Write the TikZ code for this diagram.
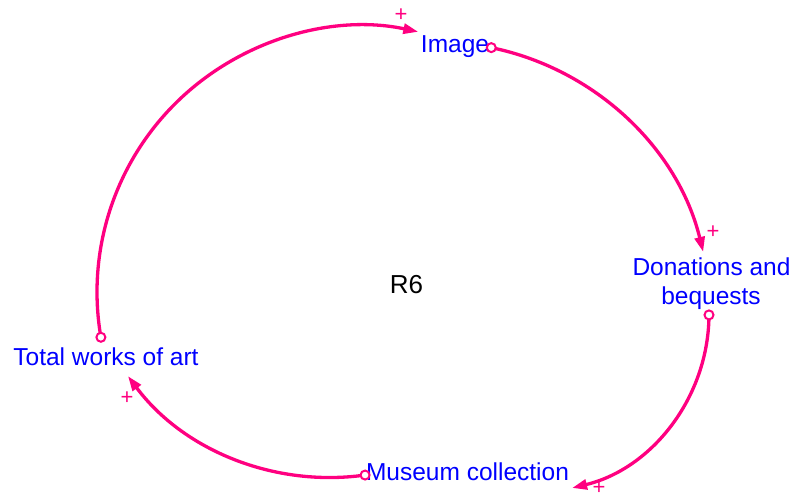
\documentclass[tikz,border=0pt]{standalone}
\usepackage{fontspec}
\setmainfont{Liberation Sans}
\usetikzlibrary{arrows.meta}
\definecolor{linkpink}{RGB}{255,0,128}
\definecolor{varblue}{RGB}{0,0,255}
\begin{document}
\begin{tikzpicture}[x=1pt,y=1pt,
  var/.style={text=varblue,font=\fontsize{24.5}{29}\selectfont,inner sep=0pt,anchor=base,align=center},
  link/.style={draw=linkpink,line width=3.3pt,-{Triangle[length=15pt,width=10pt]}},
  tailc/.style={draw=linkpink,line width=2pt,fill=white},
  pol/.style={text=linkpink,font=\fontsize{22}{22}\selectfont,inner sep=0pt,text height=12pt,text depth=0pt}]
\useasboundingbox (0,0) rectangle (794,499);
% variables
\node[var] (image) at (455,446) {Image};
\node[var] (don) at (711.5,224) {Donations and};
\node[var] (beq) at (711,195) {bequests};
\node[var] (total) at (106,134) {Total works of art};
\node[var] (museum) at (467.5,18.5) {Museum collection};
\node[text=black,font=\fontsize{26}{26}\selectfont,inner sep=0pt,anchor=base] (r6) at (406.5,206) {R6};
% arc centres
\coordinate (c1) at (363,207);
\coordinate (c2) at (436,182);
\coordinate (c3) at (530,185);
\coordinate (c4) at (330,273.5);
% tails
\coordinate (t1) at ([shift={(189.8:266)}]c1);
\coordinate (t2) at ([shift={(78.4:275)}]c2);
\coordinate (t3) at ([shift={(-0.3:179)}]c3);
\coordinate (t4) at ([shift={(-82:252)}]c4);
% links
\draw[link] (t1) arc[start angle=189.8,end angle=78,radius=266];
\draw[link] (t2) arc[start angle=78.4,end angle=13.7,radius=275];
\draw[link] (t3) arc[start angle=-0.3,end angle=-76.4,radius=179];
\draw[link] (t4) arc[start angle=-82,end angle=-143.3,radius=252];
% tail circles
\foreach \t in {t1,t2,t3,t4} \draw[tailc] (\t) circle[radius=4.5];
% polarities
\node[pol] (p1) at (401,483) {+};
\node[pol] (p2) at (713,267) {+};
\node[pol] (p3) at (599,10.5) {+};
\node[pol] (p4) at (127,101) {+};
\end{tikzpicture}
\end{document}
